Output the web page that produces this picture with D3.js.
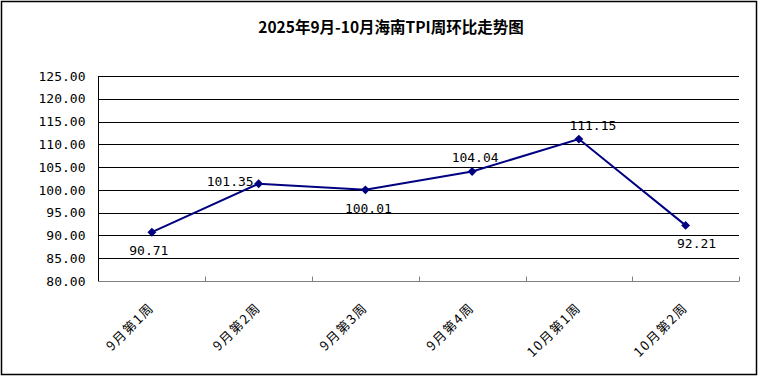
<!DOCTYPE html>
<html>
<head>
<meta charset="utf-8">
<script src="https://cdn.jsdelivr.net/npm/d3@7"></script>
<style>
  body { margin: 0; background: #fff; }
</style>
</head>
<body>
<div id="chart"></div>
<script>
var weeks = ["9月第1周", "9月第2周", "9月第3周", "9月第4周", "10月第1周", "10月第2周"];
var tpi = [90.71, 101.35, 100.01, 104.04, 111.15, 92.21];
var yTicks = [80, 85, 90, 95, 100, 105, 110, 115, 120, 125];
// where each value label sits relative to its point
var labelPos = ["below", "left", "below", "above", "above", "belowRight"];

var width = 758, height = 377;
var svg = d3.select("#chart")
    .append("svg")
    .attr("width", width)
    .attr("height", height);

svg.append("rect")
    .attr("x", 1.5).attr("y", 1.5)
    .attr("width", 755).attr("height", 373)
    .style("fill", "#fff")
    .style("stroke", "#000")
    .style("stroke-width", 1.5);

svg.append("text")
    .attr("x", 391)
    .attr("y", 33)
    .attr("text-anchor", "middle")
    .style("font-family", "'Noto Sans CJK SC', sans-serif")
    .style("font-weight", "bold")
    .style("font-size", "15.5px")
    .text("2025年9月-10月海南TPI周环比走势图");

var x = d3.scaleBand().domain(weeks).range([98.5, 739]);
var y = d3.scaleLinear().domain([80, 125]).range([281, 76]);

// gridlines
svg.append("g")
    .selectAll("line")
    .data(yTicks.filter(d => d > 80))
    .enter().append("line")
    .attr("x1", 98.5).attr("x2", 739)
    .attr("y1", d => Math.round(y(d)) + 0.5)
    .attr("y2", d => Math.round(y(d)) + 0.5)
    .style("stroke", "#000");

// y axis
var yAxis = svg.append("g")
    .attr("transform", "translate(98.5,0)")
    .call(d3.axisLeft(y).tickValues(yTicks).tickSize(0).tickPadding(13)
        .tickFormat(d3.format(".2f")));
yAxis.select(".domain").attr("d", "M0," + y(125) + "V" + y(80)).style("stroke", "#000");
yAxis.selectAll("text")
    .style("font-family", "'DejaVu Sans Mono', monospace")
    .style("font-size", "13px")
    .style("fill", "#000");

// x axis
var xAxis = svg.append("g")
    .attr("transform", "translate(0,281.5)");
xAxis.append("line")
    .attr("x1", 98).attr("x2", 739)
    .style("stroke", "#808080");
xAxis.selectAll(".tk")
    .data(weeks)
    .enter().append("line")
    .attr("class", "tk")
    .attr("x1", d => Math.round(x(d) + x.bandwidth()) + 0.5)
    .attr("x2", d => Math.round(x(d) + x.bandwidth()) + 0.5)
    .attr("y1", 0).attr("y2", -5)
    .style("stroke", "#808080");
xAxis.selectAll(".lb")
    .data(weeks)
    .enter().append("text")
    .attr("class", "lb")
    .attr("text-anchor", "end")
    .attr("transform", d => "translate(" + (x(d) + x.bandwidth() / 2 + 3) + ",27) rotate(-45)")
    .style("font-family", "'Noto Sans CJK SC', sans-serif")
    .style("font-size", "13px")
    .style("letter-spacing", "1.5px")
    .text(d => d);

// line
var line = d3.line()
    .x((d, i) => x(weeks[i]) + x.bandwidth() / 2)
    .y(d => y(d));

svg.append("path")
    .datum(tpi)
    .attr("d", line)
    .style("fill", "none")
    .style("stroke", "#000080")
    .style("stroke-width", 2);

svg.append("g")
    .selectAll("path")
    .data(tpi)
    .enter().append("path")
    .attr("d", d3.symbol().type(d3.symbolDiamond2).size(50))
    .attr("transform", (d, i) => "translate(" + (x(weeks[i]) + x.bandwidth() / 2) + "," + y(d) + ")")
    .style("fill", "#000080");

// value labels
svg.append("g")
    .selectAll("text")
    .data(tpi)
    .enter().append("text")
    .attr("x", (d, i) => {
        var cx = x(weeks[i]) + x.bandwidth() / 2;
        var p = labelPos[i];
        if (p == "left") return cx - 5;
        if (p == "belowRight") return cx + 11;
        if (p == "above" && i == 4) return cx + 14;
        return cx + (i == 0 ? -3 : 3);
    })
    .attr("y", (d, i) => {
        var p = labelPos[i];
        if (p == "left") return y(d) + 2;
        if (p == "above") return y(d) - 9;
        return y(d) + 23;
    })
    .attr("text-anchor", (d, i) => labelPos[i] == "left" ? "end" : "middle")
    .style("font-family", "'DejaVu Sans Mono', monospace")
    .style("font-size", "13px")
    .text(d => d.toFixed(2));
</script>
</body>
</html>
